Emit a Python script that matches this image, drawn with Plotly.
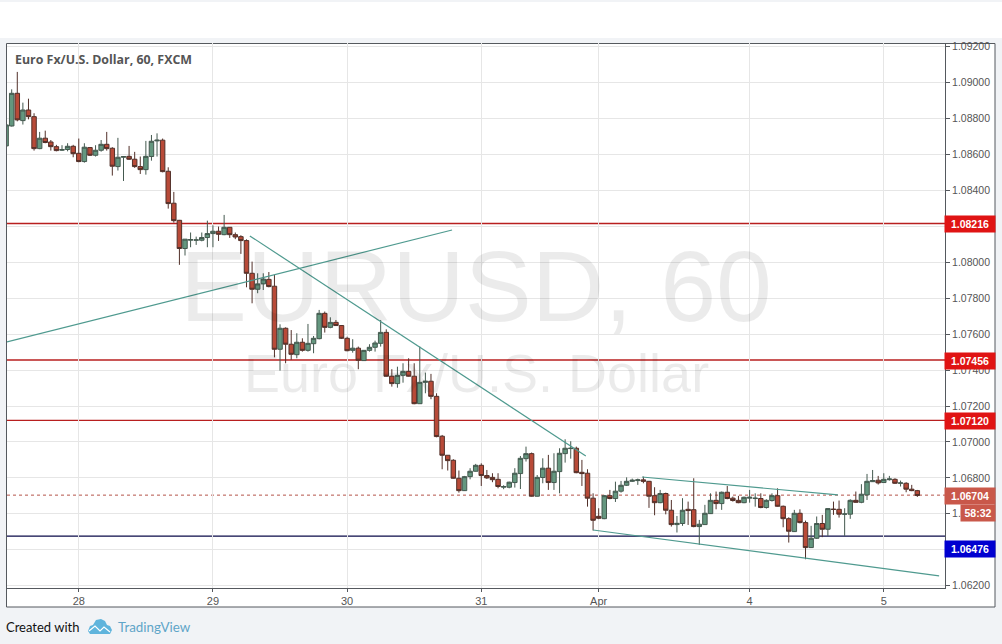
import plotly.graph_objects as go

W, H = 1002, 644
L, R, T, B = 7, 945, 43, 588

# Prices are stored as points (1e-5) above the base quote.
BASE = 1.06
POINT = 1e-5

bar_index = list(range(-1, 163))
highs = [2765,
 2963,3060,2889,2911,2830,2726,2733,2681,2654,2652,2663,2654,2689,2663,2641,2652,2681,2726,2641,2693,
 2589,2648,2615,2589,2676,2709,2718,2689,2529,2392,2236,2129,2166,2143,2166,2232,2206,2199,2264,2195,
 2166,2151,2128,2004,1939,1939,1946,1930,1655,1638,1623,1605,1577,1657,1590,1735,1726,1694,1679,1651,
 1586,1572,1531,1512,1544,1564,1679,1627,1405,1419,1438,1466,1438,1531,1386,1379,1271,1039,926,904,
 841,811,854,878,881,844,826,826,759,779,854,922,974,941,816,909,928,937,965,1015,
 1004,974,900,848,714,631,705,733,779,783,803,796,796,807,783,748,733,718,677,588,
 687,668,798,566,650,714,724,724,755,696,700,696,733,714,714,681,714,742,646,581,
 622,625,562,533,585,594,631,668,674,631,681,724,765,822,844,811,826,811,798,785,
 776,761,733]
lows = [2648,
 2756,2785,2767,2796,2622,2630,2663,2622,2618,2620,2618,2585,2557,2555,2592,2589,2616,2622,2483,2511,
 2453,2570,2526,2492,2488,2566,2589,2501,2299,2221,1986,2038,2084,2097,2117,2084,2084,2119,2151,2136,
 2129,2047,1861,1772,1828,1846,1861,1471,1397,1438,1457,1466,1503,1503,1494,1571,1609,1633,1646,1573,
 1505,1497,1405,1451,1503,1503,1531,1364,1308,1302,1330,1364,1210,1212,1271,1238,1026,848,841,796,
 718,727,792,835,755,794,776,742,737,742,746,738,891,696,696,770,733,733,714,885,
 907,826,755,640,507,570,570,681,666,718,755,777,761,770,633,592,659,597,529,496,
 533,538,525,427,538,599,625,622,681,668,659,659,662,640,631,629,668,640,525,440,
 499,547,347,410,460,470,477,594,579,477,572,662,659,677,777,763,772,785,766,752,
 720,726,694]
opens = [2648,
 2759,2941,2789,2848,2811,2633,2691,2670,2644,2624,2628,2646,2607,2561,2639,2596,2624,2657,2635,2533,
 2585,2590,2574,2533,2516,2589,2676,2680,2507,2329,2234,2077,2123,2123,2123,2138,2160,2173,2154,2195,
 2154,2143,2121,1939,1850,1880,1905,1867,1516,1633,1544,1486,1555,1510,1547,1575,1716,1638,1666,1648,
 1577,1510,1522,1453,1510,1527,1549,1610,1366,1325,1371,1393,1366,1213,1332,1338,1254,1032,926,898,
 798,729,807,837,870,813,803,792,748,748,774,824,907,935,698,802,854,774,835,935,
 963,965,831,826,687,586,573,701,685,726,759,781,785,789,781,701,662,713,620,540,
 546,625,623,529,540,601,675,657,720,687,675,662,687,685,685,635,674,701,642,573,
 501,603,551,412,464,546,514,625,625,598,598,675,664,705,779,787,774,790,792,770,
 770,737,729]
closes = [2765,
 2941,2793,2848,2811,2633,2691,2667,2644,2622,2628,2646,2605,2561,2641,2596,2624,2657,2633,2535,2585,
 2589,2574,2533,2516,2590,2674,2680,2505,2327,2232,2077,2129,2127,2125,2138,2160,2173,2156,2195,2154,
 2141,2121,1939,1850,1880,1907,1865,1516,1633,1544,1488,1555,1510,1549,1577,1716,1638,1666,1648,1577,
 1508,1522,1455,1510,1527,1551,1610,1366,1325,1371,1393,1366,1213,1332,1338,1254,1030,926,896,798,
 729,807,837,870,813,800,790,752,752,776,826,909,935,698,803,854,774,837,937,965,
 965,829,824,687,564,575,701,685,726,759,781,787,789,781,698,662,713,620,540,547,
 620,618,529,542,603,675,657,720,685,674,662,692,692,687,635,675,701,642,573,503,
 603,551,412,464,546,514,629,625,598,599,675,664,709,781,785,772,792,794,770,772,
 737,729,702]

support_resistance = [1.08216, 1.07456, 1.07120]
last_price = 1.06704
lower_level = 1.06476

trend_a_x, trend_a_y = [-0.84, 78.77], [1.07557, 1.08180]
trend_b_x, trend_b_y = [42.6, 102.7], [1.08147, 1.06922]
trend_c_x, trend_c_y = [112.75, 147.8], [1.06805, 1.06705]
trend_d_x, trend_d_y = [104.0, 165.9], [1.06510, 1.06254]

x_tick_vals = [12, 36, 60, 84, 105, 132, 156]
x_tick_text = ["28", "29", "30", "31", "Apr", "4", "5"]
y_tick_vals = [1.062, 1.064, 1.066, 1.068, 1.070, 1.072, 1.074, 1.076, 1.078, 1.080,
               1.082, 1.084, 1.086, 1.088, 1.090, 1.092]
# 1.08200 and 1.06400 sit fully behind the level badges in the reference.
y_tick_text = ["1.06200", "", "1.06600", "1.06800", "1.07000", "1.07200", "1.07400", "1.07600", "1.07800",
               "1.08000", "", "1.08400", "1.08600", "1.08800", "1.09000", "1.09200"]

to_price = lambda seq: [round(BASE + p * POINT, 5) for p in seq]


def px(x):
    return (x - L) / (R - L)


def py(y):
    return (B - y) / (B - T)


def rect(x0, y0, x1, y1, fill, line=None):
    return dict(type="rect", xref="paper", yref="paper", layer="below",
                x0=px(x0), x1=px(x1), y0=py(y0), y1=py(y1), fillcolor=fill,
                line=dict(color=line or fill, width=1 if line else 0))


def logo_path(points):
    return "M" + " L".join(f"{px(a):.5f} {py(b):.5f}" for a, b in points)


shapes = [
    rect(0, 2, W, 38, "#ffffff"),
    rect(6.5, 43.5, 995, 607, "#ffffff", "#55595e"),
]
for lvl in support_resistance:
    shapes.append(dict(type="line", xref="x domain", yref="y", layer="below", x0=0, x1=1,
                       y0=lvl, y1=lvl, line=dict(color="#b81f1f", width=1.4)))
shapes.append(dict(type="line", xref="x domain", yref="y", layer="below", x0=0, x1=1,
                   y0=lower_level, y1=lower_level, line=dict(color="#0a0a48", width=1.4)))
shapes.append(dict(type="line", xref="x domain", yref="y", layer="below", x0=0, x1=1,
                   y0=last_price, y1=last_price, line=dict(color="#b5544a", width=1, dash="dot")))
# logo
shapes.append(dict(type="path", xref="paper", yref="paper", layer="above",
                   path=logo_path([(88, 631), (90, 626), (93, 625), (96, 620), (101, 619), (105, 621),
                                   (107, 625), (110, 626), (112, 630), (110, 634), (90, 634)]) + " Z",
                   fillcolor="#5fb4dc", line=dict(width=0)))
shapes.append(dict(type="path", xref="paper", yref="paper", layer="above",
                   path=logo_path([(89, 631), (95, 626), (100, 631), (104, 627), (110, 632)]),
                   line=dict(color="#ffffff", width=1.2)))

fig = go.Figure()
fig.add_trace(go.Candlestick(
    x=bar_index, open=to_price(opens), high=to_price(highs), low=to_price(lows), close=to_price(closes),
    increasing=dict(line=dict(color="#44594f", width=1), fillcolor="#64977f"),
    decreasing=dict(line=dict(color="#523029", width=1), fillcolor="#b84a38"),
    whiskerwidth=0, showlegend=False, hoverinfo="skip"))
for tx, ty in [(trend_a_x, trend_a_y), (trend_b_x, trend_b_y), (trend_c_x, trend_c_y), (trend_d_x, trend_d_y)]:
    fig.add_trace(go.Scatter(x=tx, y=ty, mode="lines", line=dict(color="#4f9a8f", width=1.2),
                             showlegend=False, hoverinfo="skip"))

SANS = "Liberation Sans, Arial, sans-serif"


def label(x, y, text, size, color, family=SANS, **kw):
    return dict(xref="paper", yref="paper", x=px(x), y=py(y), text=text, showarrow=False,
                font=dict(size=size, color=color, family=family), **kw)


def badge(y_center, text, bg, x0=945, x1=995, h=16):
    return dict(xref="paper", yref="paper", x=px((x0 + x1) / 2), y=py(y_center), text=f"<b>{text}</b>",
                showarrow=False, width=x1 - x0, height=h, bgcolor=bg, borderpad=0, align="center",
                valign="middle", xanchor="center", yanchor="middle",
                font=dict(size=10.5, color="#ffffff", family=SANS))


annotations = [
    label(476, 286, "EURUSD, 60", 100.5, "rgba(0,0,0,0.08)", xanchor="center", yanchor="middle"),
    label(476, 373, "Euro Fx/U.S. Dollar", 54, "rgba(0,0,0,0.08)", xanchor="center", yanchor="middle"),
    label(13, 60, "<b>Euro Fx/U.S. Dollar, 60, FXCM</b>", 12.4, "#555555", family="Open Sans, sans-serif",
          xanchor="left", yanchor="middle"),
    label(4, 627, "Created with", 13, "#111111", family="Lato, sans-serif", xanchor="left", yanchor="middle"),
    label(116, 627, "TradingView", 13.4, "#5fa5c8", family="Lato, sans-serif", xanchor="left", yanchor="middle"),
    badge(224, "1.08216", "#e01414"),
    badge(360.5, "1.07456", "#e01414"),
    badge(420.5, "1.07120", "#e01414"),
    badge(496, "1.06704", "#c9584a"),
    badge(513, "58:32", "#c9584a", x0=961, x1=995),
    badge(549, "1.06476", "#0000d0"),
]

fig.update_layout(
    width=W, height=H, autosize=False,
    margin=dict(l=L, r=W - R, t=T, b=H - B, pad=0),
    paper_bgcolor="#f1f3f6", plot_bgcolor="rgba(0,0,0,0)",
    shapes=shapes, annotations=annotations, boxgap=0.2, boxgroupgap=0,
    showlegend=False,
    xaxis=dict(type="linear", range=[-0.84, 166.95], tickmode="array", tickvals=x_tick_vals, ticktext=x_tick_text,
               showgrid=True, gridcolor="#e6e6e6", gridwidth=1, zeroline=False, rangeslider=dict(visible=False),
               ticks="outside", ticklen=3, tickcolor="#55595e", showline=True, linecolor="#55595e", linewidth=1,
               tickfont=dict(family=SANS, size=11, color="#555555")),
    yaxis=dict(range=[1.06187, 1.09221], side="right", tickmode="array", tickvals=y_tick_vals,
               ticktext=y_tick_text,
               showgrid=True, gridcolor="#e6e6e6", gridwidth=1, zeroline=False,
               ticks="outside", ticklen=4, tickcolor="#55595e", showline=True, linecolor="#55595e", linewidth=1,
               tickfont=dict(family=SANS, size=10.5, color="#555555")),
)
fig.write_html("out.html", config=dict(displayModeBar=False),
               post_script="document.body.style.margin='0';document.documentElement.style.overflow='hidden';")
